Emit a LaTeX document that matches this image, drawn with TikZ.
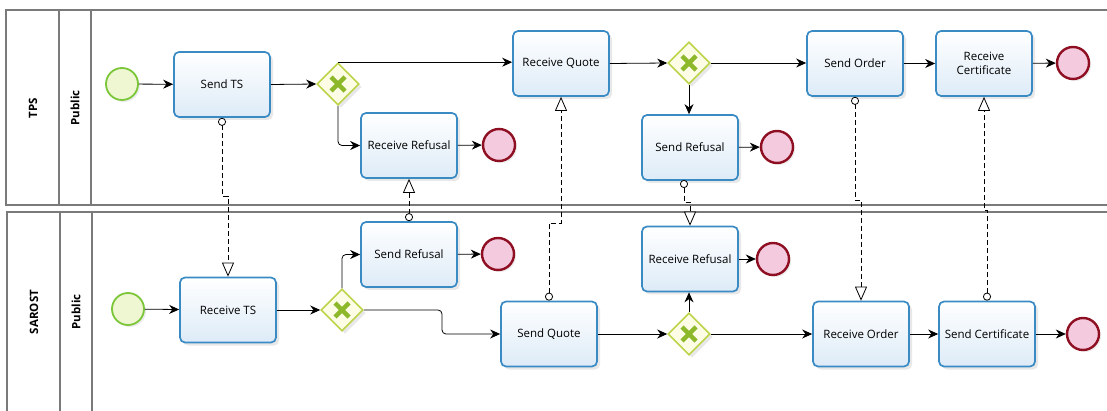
\documentclass[tikz,border=0pt]{standalone}
\usepackage{fontspec}
\setmainfont{Open Sans}
\usetikzlibrary{shapes.geometric,arrows.meta,shadows}
\definecolor{taskblue}{HTML}{3A8AC4}
\definecolor{taskfill}{HTML}{DDEBF7}
\definecolor{gwline}{HTML}{BCD34A}
\definecolor{gwfill}{HTML}{FDFDE6}
\definecolor{gwx}{HTML}{8DB82A}
\definecolor{stline}{HTML}{7CC63A}
\definecolor{stfill}{HTML}{EEF7D2}
\definecolor{enline}{HTML}{8E0E22}
\definecolor{enfill}{HTML}{F4CADF}
\definecolor{poolgrey}{HTML}{7A7A7A}
\tikzset{
  task/.style={draw=taskblue, line width=1.7pt, rounded corners=5pt,
    top color=white, bottom color=taskfill, minimum width=96pt, minimum height=65pt,
    align=center, font=\fontsize{11.5}{14.5}\selectfont, inner sep=2pt,
    drop shadow={opacity=0.18, shadow xshift=3pt, shadow yshift=-3pt}},
  gway/.style={diamond, draw=gwline, line width=1.6pt, fill=gwfill, minimum width=42pt,
    minimum height=42pt, inner sep=0pt,
    drop shadow={opacity=0.18, shadow xshift=3pt, shadow yshift=-3pt}},
  gx/.style={draw=gwx, line width=4.5pt},
  startev/.style={circle, draw=stline, line width=1.8pt, fill=stfill, minimum size=32pt, inner sep=0pt,
    drop shadow={opacity=0.15, shadow xshift=2pt, shadow yshift=-2pt}},
  endev/.style={circle, draw=enline, line width=2.4pt, fill=enfill, minimum size=32pt, inner sep=0pt,
    drop shadow={opacity=0.15, shadow xshift=2pt, shadow yshift=-2pt}},
  seq/.style={draw=black, line width=0.8pt, -{Stealth[length=10pt,width=9pt]}},
  msg/.style={draw=black, line width=0.8pt, dash pattern=on 5pt off 3pt,
    {Circle[open,length=8pt,width=8pt,fill=white,line width=0.8pt]}-{Triangle[open,length=14pt,width=12pt,fill=white,line width=0.8pt]}},
  pool/.style={draw=poolgrey, line width=1.1pt},
  plabel/.style={rotate=90, font=\fontsize{11.5}{13}\selectfont\bfseries}
}
\newcommand{\gwx}[1]{%
  \draw[gx] ([shift={(-7,-7)}]#1.center) -- ([shift={(7,7)}]#1.center);
  \draw[gx] ([shift={(-7,7)}]#1.center) -- ([shift={(7,-7)}]#1.center);}
\begin{document}
\begin{tikzpicture}[x=1pt,y=-1pt]
\useasboundingbox (0,0) rectangle (1107,411);
\clip (0,0) rectangle (1107,411);
% pools
\draw[pool] (1112,10) -- (6,10) -- (6,205) -- (1112,205);
\draw[pool] (59,10) -- (59,205);
\draw[pool] (91,10) -- (91,205);
\draw[pool] (1112,212) -- (7,212) -- (7,416);
\draw[pool] (60,212) -- (60,416);
\draw[pool] (92,212) -- (92,416);
\node[plabel] (ltps) at (33,108) {TPS};
\node[plabel] (lpub1) at (75,108) {Public};
\node[plabel] (lsar) at (34,312) {SAROST};
\node[plabel] (lpub2) at (76,312) {Public};
% TPS nodes
\node[startev] (s1) at (122,84) {};
\node[task] (sts) at (222,84.5) {Send TS};
\node[gway] (g1) at (338,84) {};
\node[task] (rq) at (561,63.5) {Receive Quote};
\node[gway] (g2) at (689,63) {};
\node[task] (rr1) at (409,145.5) {Receive Refusal};
\node[endev] (e1) at (499,145) {};
\node[task] (sr1) at (690,147.5) {Send Refusal};
\node[endev] (e2) at (777,147) {};
\node[task] (so) at (855,63.5) {Send Order};
\node[task] (rc) at (984,63.5) {Receive\\Certificate};
\node[endev] (e3) at (1073,63) {};
% SAROST nodes
\node[startev] (s2) at (128,309) {};
\node[task] (rts) at (228,310) {Receive TS};
\node[gway] (g3) at (342,310) {};
\node[task] (sr2) at (409,254.5) {Send Refusal};
\node[endev] (e4) at (498,254) {};
\node[task] (sq) at (549,334) {Send Quote};
\node[gway] (g4) at (689,334) {};
\node[task] (rr2) at (690,259) {Receive Refusal};
\node[endev] (e5) at (773,259) {};
\node[task] (ro) at (861,334) {Receive Order};
\node[task] (sc) at (987,334) {Send Certificate};
\node[endev] (e6) at (1083,334) {};
\gwx{g1}\gwx{g2}\gwx{g3}\gwx{g4}
% sequence flows TPS
\draw[seq] (s1) -- (sts);
\draw[seq] (sts.east) -- (g1.west);
\draw[seq] (g1.north) -- (g1.north -| rq.west);
\draw[seq, rounded corners=4pt] (g1.south) |- (rr1.west);
\draw[seq] (rr1) -- (e1);
\draw[seq] (rq.east) -- (g2.west);
\draw[seq] (g2.east) -- (g2.east -| so.west);
\draw[seq] (g2.south) -- (g2.south |- sr1.north);
\draw[seq] (sr1) -- (e2);
\draw[seq] (so) -- (rc);
\draw[seq] (rc) -- (e3);
% sequence flows SAROST
\draw[seq] (s2) -- (rts);
\draw[seq] (rts.east) -- (g3.west);
\draw[seq, rounded corners=4pt] (g3.north) |- (sr2.west);
\draw[seq] (sr2) -- (e4);
\coordinate (k1) at (442,334);
\draw[seq, rounded corners=4pt] (g3.east) -| (k1) -- (sq.west);
\draw[seq] (sq.east) -- (g4.west);
\draw[seq] (g4.north) -- (g4.north |- rr2.south);
\draw[seq] (rr2) -- (e5);
\draw[seq] (g4.east) -- (ro.west);
\draw[seq] (ro) -- (sc);
\draw[seq] (sc) -- (e6);
% message flows
\coordinate (m1) at (0,196);
\draw[msg] (sts.south) -- (sts.south |- m1) -- (rts.north |- m1) -- (rts.north);
\draw[msg] (sr2.north) -- (rr1.south);
\coordinate (m3) at (0,223);
\draw[msg] (sq.north) -- (sq.north |- m3) -- (rq.south |- m3) -- (rq.south);
\coordinate (m4) at (0,202);
\coordinate (m4a) at (684,180);
\draw[msg] (m4a) -- (m4a |- m4) -- (rr2.north |- m4) -- (rr2.north);
\coordinate (m5) at (0,200);
\draw[msg] (so.south) -- (so.south |- m5) -- (ro.north |- m5) -- (ro.north);
\coordinate (m6) at (0,210);
\draw[msg] (sc.north) -- (sc.north |- m6) -- (rc.south |- m6) -- (rc.south);
\end{tikzpicture}
\end{document}
